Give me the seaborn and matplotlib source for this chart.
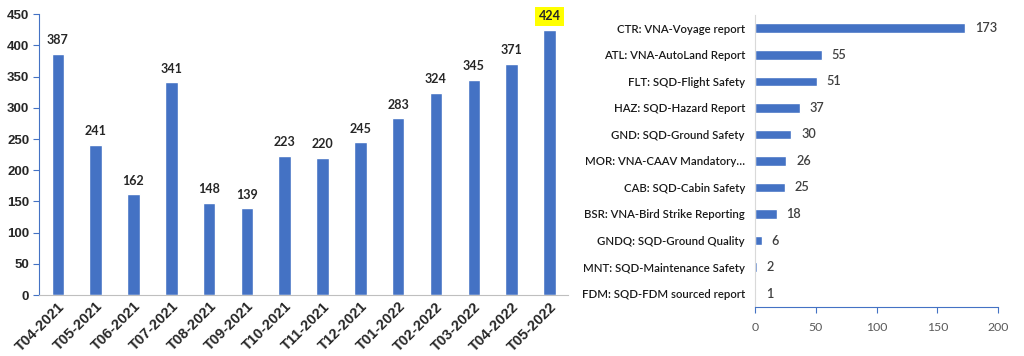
import pandas as pd
import matplotlib
matplotlib.use('Agg')
import matplotlib.pyplot as plt
import seaborn as sns

# monthly report counts
months = ['T04-2021', 'T05-2021', 'T06-2021', 'T07-2021', 'T08-2021', 'T09-2021',
          'T10-2021', 'T11-2021', 'T12-2021', 'T01-2022', 'T02-2022', 'T03-2022',
          'T04-2022', 'T05-2022']
counts = [387, 241, 162, 341, 148, 139, 223, 220, 245, 283, 324, 345, 371, 424]

# report type breakdown
report_types = ['CTR: VNA-Voyage report', 'ATL: VNA-AutoLand Report', 'FLT: SQD-Flight Safety',
                'HAZ: SQD-Hazard Report', 'GND: SQD-Ground Safety', 'MOR: VNA-CAAV Mandatory…',
                'CAB: SQD-Cabin Safety', 'BSR: VNA-Bird Strike Reporting', 'GNDQ: SQD-Ground Quality',
                'MNT: SQD-Maintenance Safety', 'FDM: SQD-FDM sourced report']
type_counts = [173, 55, 51, 37, 30, 26, 25, 18, 6, 2, 1]

BLUE = '#4472C4'
CAL = ['Lato', 'DejaVu Sans']  # closest to Calibri

sns.set_style('white')
plt.rcParams['font.family'] = ['Liberation Sans', 'DejaVu Sans']

fig = plt.figure(figsize=(10.24, 3.56), dpi=100, facecolor='white')

# ---------------------------------------------------------
# left: monthly bars
# ---------------------------------------------------------
ax1 = fig.add_axes([0.038, 0.171, 0.517, 0.789])
df1 = pd.DataFrame({'month': months, 'count': counts})
sns.barplot(data=df1, x='month', y='count', color=BLUE, width=0.33, saturation=1, ax=ax1)
ax1.set_xlim(-0.5, len(months) - 0.5)
ax1.set_ylim(0, 450)
ax1.set_yticks(range(0, 451, 50))
ax1.set_xlabel('')
ax1.set_ylabel('')
for s in ['top', 'right']:
    ax1.spines[s].set_visible(False)
ax1.spines['left'].set_color(BLUE)
ax1.spines['bottom'].set_color('#bfbfbf')
ax1.tick_params(axis='y', length=4, color=BLUE, direction='out', labelsize=9.5, pad=3, left=True)
ax1.tick_params(axis='x', length=0, labelsize=10.5, pad=3)
for lbl in ax1.get_yticklabels() + ax1.get_xticklabels():
    lbl.set_fontweight('bold')
plt.setp(ax1.get_xticklabels(), rotation=45, ha='right', rotation_mode='anchor')

for i, v in enumerate(counts):
    if i == len(counts) - 1:
        ax1.text(i, v + 13, str(v), ha='center', va='bottom', fontsize=9, fontweight='bold',
                 family=CAL, bbox=dict(facecolor='#ffff00', edgecolor='none', pad=2.5))
    else:
        ax1.text(i, v + 12, str(v), ha='center', va='bottom', fontsize=9, fontweight='bold',
                 family=CAL)

# ---------------------------------------------------------
# right: report type horizontal bars
# ---------------------------------------------------------
ax2 = fig.add_axes([0.737, 0.138, 0.238, 0.82])
df2 = pd.DataFrame({'type': report_types, 'count': type_counts})
sns.barplot(data=df2, y='type', x='count', color=BLUE, width=0.36, saturation=1, ax=ax2)
ax2.set_xlim(0, 200)
ax2.set_xticks(range(0, 201, 50))
ax2.set_ylim(len(report_types) - 0.5, -0.5)
ax2.set_xlabel('')
ax2.set_ylabel('')
for s in ['top', 'right']:
    ax2.spines[s].set_visible(False)
ax2.spines['left'].set_color('#d9d9d9')
ax2.spines['bottom'].set_color(BLUE)
ax2.tick_params(axis='x', length=4, color=BLUE, direction='out', labelsize=8.8,
                labelcolor='#595959', pad=7, bottom=True)
ax2.tick_params(axis='y', length=0, labelsize=8.2, labelcolor='#1a1a1a', pad=7)
for lbl in ax2.get_yticklabels() + ax2.get_xticklabels():
    lbl.set_family(CAL)
for lbl in ax2.get_yticklabels():
    lbl.set_fontweight('semibold')

for i, v in enumerate(type_counts):
    ax2.text(v + 8, i, str(v), ha='left', va='center', fontsize=9.2, color='#404040',
             family=CAL, fontweight='semibold')

plt.savefig('out.png', dpi=100, facecolor='white')
